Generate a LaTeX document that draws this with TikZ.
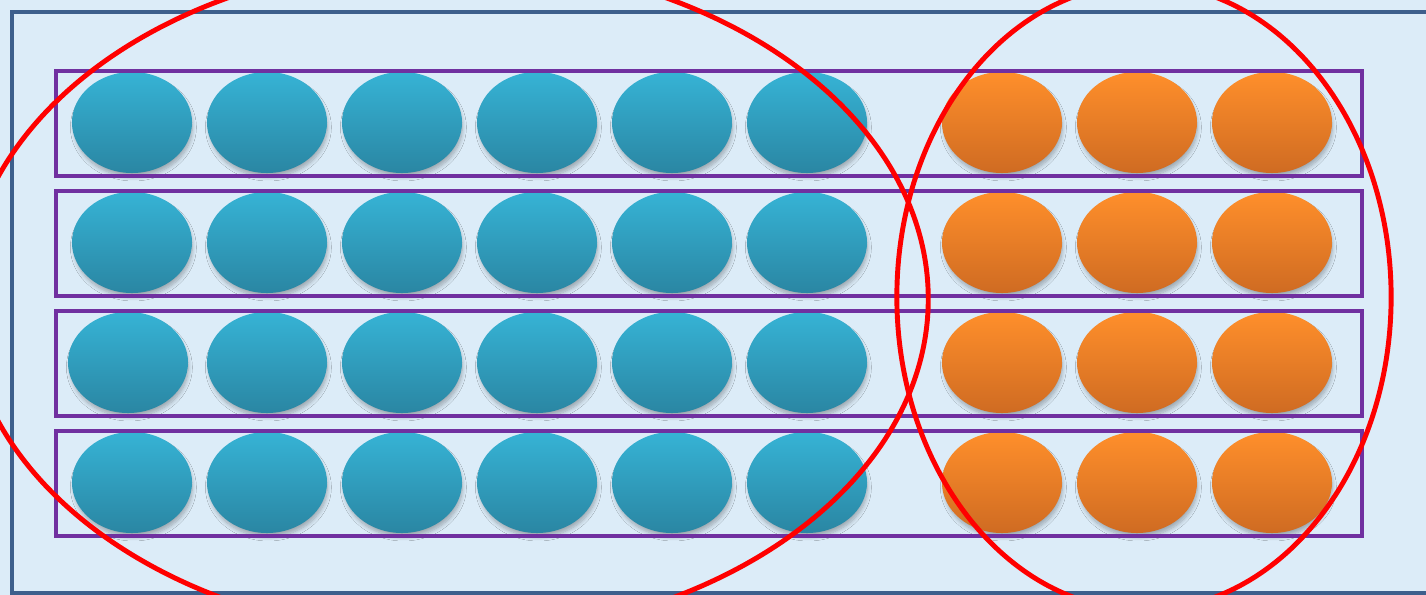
\documentclass[tikz,border=0pt]{standalone}
\usepackage{tikz}
\usetikzlibrary{positioning,shapes.geometric,shadows.blur}

\definecolor{bgblue}{HTML}{DCECF8}
\definecolor{frameblue}{HTML}{3D5F8C}
\definecolor{rowpurple}{HTML}{7030A0}
\definecolor{tealtop}{HTML}{36B3D5}
\definecolor{tealbot}{HTML}{2A86A3}
\definecolor{orangetop}{HTML}{FF8F2B}
\definecolor{orangebot}{HTML}{CF6B22}

\begin{document}
\begin{tikzpicture}[
    x=0.01cm, y=-0.01cm,
    counter/.style={ellipse,minimum width=1.2cm,minimum height=1.01cm,inner sep=0pt,
                    blur shadow={shadow xshift=0.4pt,shadow yshift=-1.4pt,shadow scale=0.98,
                                 shadow blur radius=1.2pt,shadow blur steps=8,
                                 shadow opacity=30}},
    tens/.style={counter,top color=tealtop,bottom color=tealbot},
    ones/.style={counter,top color=orangetop,bottom color=orangebot},
    rowbox/.style={draw=rowpurple,line width=1.2pt,inner sep=0pt,
                   minimum width=13.045cm,minimum height=1.05cm},
    group/.style={draw=red,line width=1.4pt,ellipse,inner sep=0pt}
]
  \useasboundingbox (0,0) rectangle (1426,595);
  \fill[bgblue] (0,0) rectangle (1426,595);
  \draw[frameblue,line width=1.3pt] (12,12) rectangle (1460,593);

  % counters, six teal and three orange in each row
  \foreach \r/\y/\xa in {1/122.5/132,2/242.5/132,3/362.5/128,4/482.5/132}{
    \node[tens] (t\r1) at (\xa,\y) {};
    \foreach \c in {2,...,6}
      \node[tens] (t\r\c) at ({132+135*(\c-1)},\y) {};
    \foreach \c in {1,2,3}
      \node[ones] (o\r\c) at ({1002+135*(\c-1)},\y) {};
  }

  % row frames
  \node[rowbox] (row1) at (709,123.5) {};
  \node[rowbox] (row2) at (709,243.5) {};
  \node[rowbox] (row3) at (709,363.5) {};
  \node[rowbox] (row4) at (709,483.5) {};

  % groups
  \node[group,minimum width=9.62cm,minimum height=6.76cm] (tengroup) at (447,299) {};
  \node[group,minimum width=4.94cm,minimum height=6.26cm] (onegroup) at (1144,297) {};
\end{tikzpicture}
\end{document}
